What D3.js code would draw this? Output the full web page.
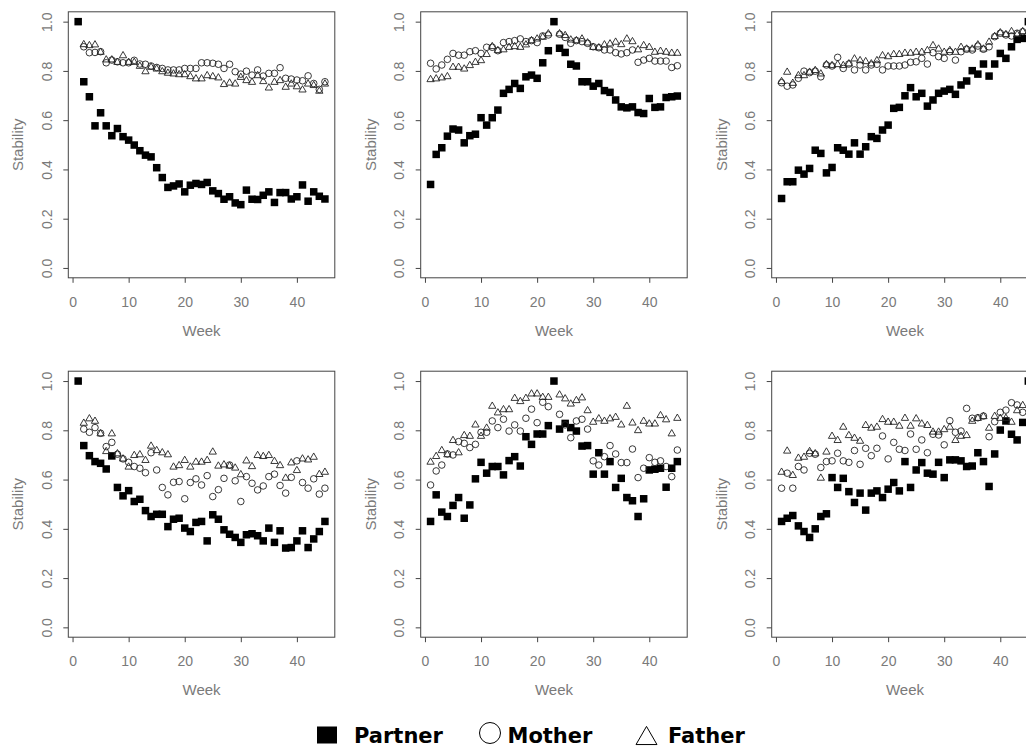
<!DOCTYPE html>
<html>
<head>
<meta charset="utf-8">
<script src="https://cdn.jsdelivr.net/npm/d3@7"></script>
<style>
  body { margin: 0; background: #fff; }
  svg { display: block; }
</style>
</head>
<body>
<script>
// weeks on the x axis
const weeks = d3.range(1, 46);
const xTicks = [0, 10, 20, 30, 40];
const yTicks = [0, 0.2, 0.4, 0.6, 0.8, 1.0];
const legendLabels = ["Partner", "Mother", "Father"];

// panel 1 (top left)
const p1Partner = [1.00,0.756,0.695,0.577,0.630,0.577,0.537,0.566,0.533,0.519,0.499,0.476,0.458,0.451,0.407,0.367,0.327,0.333,0.341,0.309,0.336,0.343,0.339,0.347,0.313,0.302,0.279,0.289,0.264,0.257,0.316,0.279,0.278,0.295,0.309,0.266,0.306,0.306,0.280,0.289,0.337,0.271,0.309,0.291,0.280];
const p1Mother = [null,0.898,0.874,0.875,0.878,0.833,0.844,0.837,0.833,0.833,0.843,0.828,0.827,0.820,0.814,0.810,0.804,0.804,0.804,0.810,0.810,0.810,0.833,0.833,0.831,0.827,0.810,0.827,0.797,0.787,0.799,0.783,0.804,0.779,0.790,0.790,0.813,0.770,0.767,0.763,0.760,0.780,0.749,0.725,0.756];
const p1Father = [null,0.909,0.905,0.908,0.878,0.847,0.847,0.837,0.864,0.837,0.837,0.821,0.799,0.817,0.810,0.799,0.793,0.790,0.787,0.787,0.779,0.770,0.770,0.783,0.779,0.774,0.747,0.753,0.749,0.776,0.763,0.756,0.783,0.759,0.733,0.756,0.763,0.736,0.749,0.738,0.725,0.749,0.743,0.720,0.749];

// panel 2 (top middle)
const p2Partner = [0.339,0.461,0.488,0.535,0.564,0.560,0.508,0.537,0.543,0.610,0.580,0.610,0.641,0.709,0.725,0.749,0.729,0.776,0.783,0.770,0.833,0.882,1.00,0.892,0.875,0.827,0.820,0.756,0.756,0.738,0.749,0.720,0.713,0.682,0.654,0.650,0.654,0.631,0.627,0.688,0.652,0.654,0.692,0.695,0.698];
const p2Mother = [0.831,0.808,0.824,0.847,0.871,0.864,0.864,0.878,0.882,0.871,0.896,0.896,0.882,0.915,0.919,0.923,0.930,0.919,0.923,0.915,0.942,0.946,null,0.949,0.936,0.912,0.923,0.919,0.912,0.898,0.894,0.885,0.885,0.874,0.869,0.874,0.885,0.835,0.844,0.851,0.840,0.840,0.840,0.814,0.821];
const p2Father = [0.767,0.770,0.774,0.779,0.817,0.817,0.810,0.824,0.837,0.844,0.869,0.901,0.885,0.888,0.898,0.901,0.898,0.908,0.925,0.932,0.939,0.953,null,0.953,0.946,0.928,0.925,0.932,0.916,0.898,0.896,0.908,0.912,0.919,0.909,0.932,0.921,0.888,0.905,0.898,0.878,0.882,0.878,0.874,0.874];

// panel 3 (top right)
const p3Partner = [0.282,0.350,0.350,0.397,0.381,0.404,0.478,0.465,0.386,0.408,0.488,0.478,0.462,0.508,0.462,0.492,0.533,0.526,0.560,0.580,0.648,0.652,0.699,0.732,0.695,0.709,0.657,0.682,0.709,0.718,0.725,0.705,0.743,0.759,0.801,0.787,0.828,0.779,0.828,0.871,0.851,0.898,0.928,0.932,1.00];
const p3Mother = [0.752,0.738,0.743,0.770,0.799,0.793,0.799,0.776,0.824,0.820,0.855,0.810,0.828,0.804,0.824,0.804,0.824,0.827,0.804,0.820,0.820,0.820,0.824,0.835,0.837,0.851,0.828,0.874,0.858,0.851,0.878,0.844,0.878,0.888,0.885,0.901,0.888,0.898,0.939,0.953,0.946,0.942,0.953,0.959,null];
const p3Father = [0.759,0.797,0.752,0.783,0.783,0.797,0.804,0.790,0.828,0.824,0.828,0.824,0.831,0.851,0.844,0.840,0.831,0.844,0.864,0.860,0.869,0.869,0.874,0.874,0.878,0.878,0.885,0.905,0.891,0.878,0.885,0.878,0.898,0.891,0.891,0.908,0.891,0.919,0.942,0.957,0.950,0.962,0.950,0.962,null];

// panel 4 (bottom left)
const p4Partner = [1.00,0.738,0.697,0.673,0.666,0.643,0.696,0.568,0.534,0.555,0.511,0.520,0.474,0.450,0.459,0.459,0.409,0.439,0.443,0.403,0.389,0.426,0.430,0.351,0.457,0.439,0.396,0.378,0.365,0.345,0.376,0.380,0.372,0.351,0.403,0.345,0.392,0.322,0.324,0.351,0.392,0.324,0.359,0.389,0.430];
const p4Mother = [null,0.805,0.792,0.811,0.788,0.734,0.751,0.703,0.684,0.670,0.653,0.646,0.628,0.709,0.639,0.568,0.538,0.589,0.592,0.522,0.588,0.603,0.578,0.616,0.531,0.559,0.605,0.659,0.595,0.511,0.612,0.585,0.558,0.574,0.612,0.622,0.576,0.545,0.609,0.676,0.588,0.565,0.603,0.541,0.565];
const p4Father = [null,0.831,0.849,0.839,0.788,0.716,0.788,0.707,0.686,0.653,0.700,0.703,0.680,0.738,0.720,0.711,0.703,0.653,0.659,0.680,0.653,0.673,0.673,0.680,0.714,0.657,0.662,0.657,0.649,0.622,0.678,0.655,0.700,0.696,0.700,0.676,0.659,0.608,0.670,0.639,0.686,0.682,0.693,0.623,0.632];

// panel 5 (bottom middle)
const p5Partner = [0.430,0.538,0.468,0.450,0.495,0.527,0.443,0.497,0.603,0.670,0.626,0.653,0.653,0.619,0.677,0.693,0.655,0.774,0.743,0.785,0.785,0.819,1.00,0.805,0.828,0.811,0.797,0.736,0.738,0.622,0.709,0.622,0.673,0.568,0.605,0.527,0.514,0.450,0.522,0.639,0.642,0.646,0.569,0.646,0.673];
const p5Mother = [0.578,0.635,0.659,0.704,0.700,0.754,0.747,0.730,0.743,0.792,0.792,0.838,0.811,0.845,0.797,0.822,0.797,0.849,0.886,0.831,0.914,0.896,null,0.865,0.822,0.770,0.838,0.845,0.805,0.676,0.659,0.693,0.738,0.704,0.669,0.669,0.724,0.608,0.646,0.689,0.670,0.676,0.653,0.612,0.720];
const p5Father = [0.673,0.696,0.720,0.703,0.761,0.711,0.781,0.778,0.824,0.778,0.811,0.900,0.873,0.886,0.886,0.932,0.919,0.932,0.950,0.950,0.936,0.936,null,0.946,0.930,0.909,0.923,0.934,0.882,0.835,0.849,0.839,0.849,0.855,0.824,0.900,0.832,0.801,0.839,0.828,0.828,0.862,0.845,0.788,0.851];

// panel 6 (bottom right)
const p6Partner = [0.430,0.443,0.454,0.412,0.389,0.365,0.400,0.450,0.461,0.608,0.568,0.605,0.551,0.507,0.545,0.476,0.545,0.554,0.527,0.561,0.588,0.554,0.673,0.568,0.639,0.669,0.626,0.622,0.670,0.608,0.680,0.680,0.676,0.653,0.655,0.709,0.673,0.572,0.704,0.801,0.838,0.784,0.761,0.832,1.00];
const p6Mother = [0.565,0.626,0.565,0.653,0.639,0.707,0.703,0.649,0.673,0.676,0.707,0.676,0.670,0.718,0.662,0.727,0.697,0.727,0.777,0.684,0.751,0.723,0.718,0.785,0.723,0.761,0.709,0.784,0.781,0.741,0.839,0.792,0.797,0.889,0.849,0.851,0.858,0.774,0.835,0.873,0.882,0.912,0.903,0.873,null];
const p6Father = [0.632,0.718,0.619,0.689,0.693,0.716,0.707,0.608,0.714,0.778,0.761,0.815,0.781,0.770,0.758,0.822,0.811,0.815,0.846,0.835,0.835,0.819,0.851,0.819,0.849,0.828,0.822,0.795,0.795,0.805,0.815,0.761,0.778,0.781,0.839,0.851,0.858,0.811,0.859,0.851,0.851,0.835,0.882,0.903,null];

const panels = [
  [p1Partner, p1Mother, p1Father],
  [p2Partner, p2Mother, p2Father],
  [p3Partner, p3Mother, p3Father],
  [p4Partner, p4Mother, p4Father],
  [p5Partner, p5Mother, p5Father],
  [p6Partner, p6Mother, p6Father]
];

const W = 1026, H = 748;
const colLeft = [68.3, 420.7, 771.7];
const rowTop = [11.8, 371.2];
const pw = 266.5, ph = 266;
const grey = "#7a7a7a";
const font = "'Liberation Sans', Arial, sans-serif";

const svg = d3.select("body").append("svg")
  .attr("width", W)
  .attr("height", H)
  .style("font-family", font);

const x = d3.scaleLinear().domain([-0.76, 46.76]).range([0, pw]);
const y = d3.scaleLinear().domain([-0.04, 1.04]).range([ph, 0]);

const tri = d3.symbol().type(d3.symbolTriangle).size(23);

panels.forEach((series, i) => {
  const g = svg.append("g")
    .attr("transform", "translate(" + colLeft[i % 3] + "," + rowTop[Math.floor(i / 3)] + ")");

  // x axis
  const xa = g.append("g")
    .attr("transform", "translate(0," + ph + ")")
    .call(d3.axisBottom(x).tickValues(xTicks).tickSize(5).tickPadding(14));
  // y axis
  const ya = g.append("g")
    .call(d3.axisLeft(y).tickValues(yTicks).tickSize(5).tickFormat(d3.format(".1f")));

  [xa, ya].forEach(a => {
    a.select(".domain").remove();
    a.selectAll("line").attr("stroke", "#444");
    a.selectAll("text").attr("fill", grey).style("font-size", "14px").style("font-family", font);
  });
  ya.selectAll("text")
    .attr("x", null).attr("dy", null)
    .attr("text-anchor", "middle")
    .attr("transform", "translate(-16.5,0) rotate(-90)");

  // frame
  g.append("rect")
    .attr("width", pw).attr("height", ph)
    .attr("fill", "none").attr("stroke", "#444").attr("stroke-width", 1);

  // axis titles
  g.append("text")
    .attr("x", pw / 2).attr("y", ph + 58)
    .attr("text-anchor", "middle")
    .attr("fill", grey).style("font-size", "15px")
    .text("Week");
  g.append("text")
    .attr("transform", "translate(-45," + (ph / 2) + ") rotate(-90)")
    .attr("text-anchor", "middle")
    .attr("fill", grey).style("font-size", "15px")
    .text("Stability");

  const [partner, mother, father] = series;

  g.selectAll(".sq")
    .data(weeks.map((w, k) => [w, partner[k]]).filter(d => d[1] != null))
    .enter().append("rect")
    .attr("x", d => x(d[0]) - 3.75)
    .attr("y", d => y(d[1]) - 3.75)
    .attr("width", 7.5).attr("height", 7.5)
    .attr("fill", "#000");

  g.selectAll(".ci")
    .data(weeks.map((w, k) => [w, mother[k]]).filter(d => d[1] != null))
    .enter().append("circle")
    .attr("cx", d => x(d[0]))
    .attr("cy", d => y(d[1]))
    .attr("r", 3.3)
    .attr("fill", "none").attr("stroke", "#222").attr("stroke-width", 0.9);

  g.selectAll(".tr")
    .data(weeks.map((w, k) => [w, father[k]]).filter(d => d[1] != null))
    .enter().append("path")
    .attr("d", tri)
    .attr("transform", d => "translate(" + x(d[0]) + "," + (y(d[1]) + 0.5) + ")")
    .attr("fill", "none").attr("stroke", "#222").attr("stroke-width", 0.9);
});

// legend
const leg = svg.append("g").style("font-family", "'DejaVu Sans', sans-serif");
leg.append("rect").attr("x", 317).attr("y", 726.5).attr("width", 20).attr("height", 17).attr("fill", "#000");
leg.append("circle").attr("cx", 490).attr("cy", 733).attr("r", 10.5)
  .attr("fill", "none").attr("stroke", "#000").attr("stroke-width", 1);
leg.append("path")
  .attr("d", d3.symbol().type(d3.symbolTriangle).size(190))
  .attr("transform", "translate(646.5,738.5)")
  .attr("fill", "none").attr("stroke", "#000").attr("stroke-width", 1);
const legX = [354, 507.5, 668];
legendLabels.forEach((t, k) => {
  leg.append("text")
    .attr("x", legX[k]).attr("y", 743)
    .style("font-size", "21px").style("font-weight", "bold")
    .attr("fill", "#000")
    .text(t);
});
</script>
</body>
</html>
